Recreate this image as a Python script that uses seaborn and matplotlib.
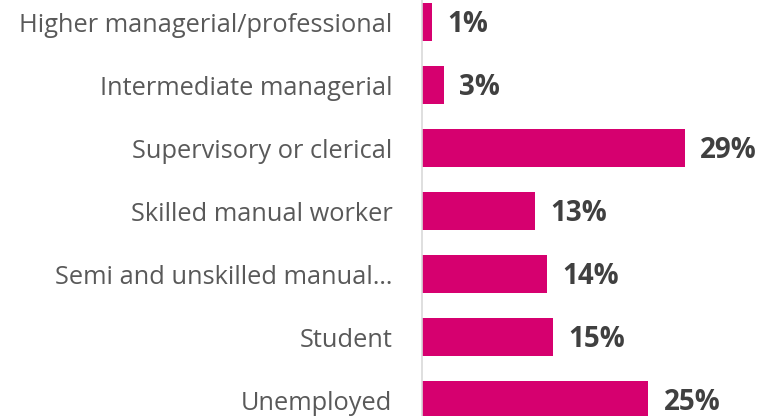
import matplotlib
matplotlib.use("Agg")
import matplotlib.pyplot as plt
import seaborn as sns
import pandas as pd

categories = ["Higher managerial/professional", "Intermediate managerial",
              "Supervisory or clerical", "Skilled manual worker",
              "Semi and unskilled manual…", "Student", "Unemployed"]
values = [1.2, 2.5, 29.0, 12.5, 13.8, 14.5, 25.0]
value_labels = ["1%", "3%", "29%", "13%", "14%", "15%", "25%"]

sns.set_theme(style="white")
plt.rcParams['font.family'] = ['Open Sans', 'DejaVu Sans']

df = pd.DataFrame({"category": categories, "value": values})

fig = plt.figure(figsize=(7.58, 4.16), dpi=100)
ax = fig.add_axes([421.5 / 758, 0, 336.5 / 758, 1])
sns.barplot(data=df, y="category", x="value", color="#D6006F", saturation=1,
            width=0.59, ax=ax, edgecolor="none")
ax.set_xlim(0, 37.1)
ax.set_ylim(6.254, -0.35)
ax.set_xlabel("")
ax.set_ylabel("")
ax.set_xticks([])
for s in ["top", "right", "bottom"]:
    ax.spines[s].set_visible(False)
ax.spines["left"].set_color("#D9D9D9")
ax.spines["left"].set_linewidth(1.2)
ax.tick_params(axis="y", length=0, pad=21, labelsize=18.3, labelcolor="#595959")

for i, (v, lab) in enumerate(zip(values, value_labels)):
    ax.annotate(lab, xy=(v, i), xytext=(11, -1.5), textcoords="offset points",
                ha="left", va="center", fontsize=20, fontweight="bold",
                color="#404040")

fig.savefig("out.png", dpi=100)
